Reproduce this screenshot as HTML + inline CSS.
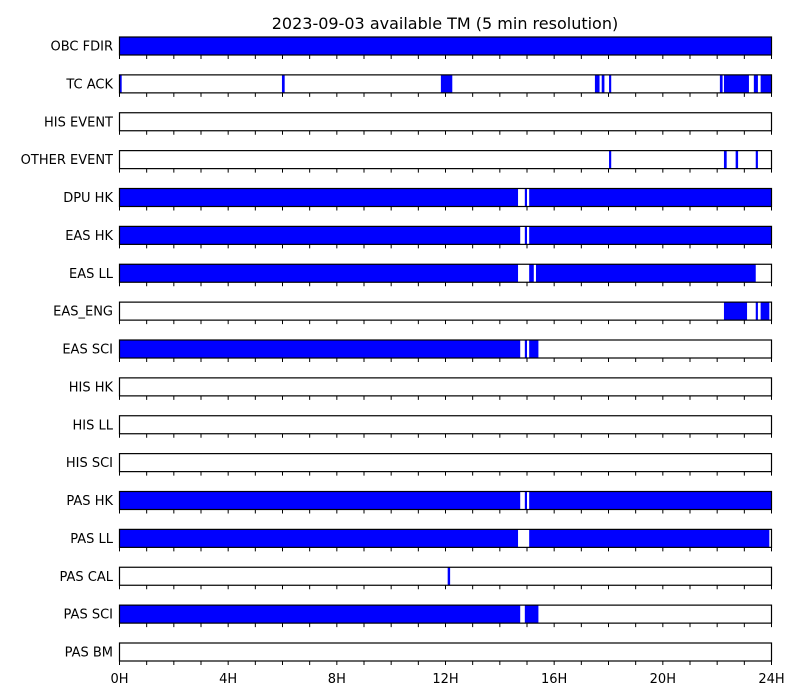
<!DOCTYPE html>
<html><head><meta charset="utf-8"><style>
body{margin:0;background:#fff;}
svg{display:block;font-family:"DejaVu Sans","Liberation Sans",sans-serif;}
</style></head><body>
<svg id="chart" width="800" height="700" viewBox="0 0 800 700" xmlns="http://www.w3.org/2000/svg">
<text x="445" y="29" text-anchor="middle" font-size="16">2023-09-03 available TM (5 min resolution)</text>
<g id="rows"></g>
</svg>
<script>
const categories = ["OBC FDIR","TC ACK","HIS EVENT","OTHER EVENT","DPU HK","EAS HK","EAS LL","EAS_ENG","EAS SCI","HIS HK","HIS LL","HIS SCI","PAS HK","PAS LL","PAS CAL","PAS SCI","PAS BM"];
const intervals = [
 [[0,24]],
 [[0,0.08],[5.98,6.08],[11.83,12.25],[17.5,17.67],[17.75,17.85],[18.02,18.1],[22.1,22.2],[22.25,23.17],[23.35,23.5],[23.6,24]],
 [],
 [[18.02,18.1],[22.25,22.35],[22.68,22.77],[23.42,23.5]],
 [[0,14.67],[14.92,15.0],[15.08,24]],
 [[0,14.75],[14.92,15.0],[15.08,24]],
 [[0,14.67],[15.08,15.25],[15.33,23.42]],
 [[22.25,23.1],[23.42,23.5],[23.6,23.92]],
 [[0,14.75],[14.92,15.0],[15.08,15.42]],
 [],[],[],
 [[0,14.75],[14.92,15.0],[15.08,24]],
 [[0,14.67],[15.08,23.92]],
 [[12.08,12.17]],
 [[0,14.75],[14.92,15.42]],
 []
];
const tickLabels = ["0H","4H","8H","12H","16H","20H","24H"];
const tickHours = [0,4,8,12,16,20,24];

const X0=119.5, X1=771.5, TOP=37, STEP=37.875, H=18;
const xs = h => X0 + (X1-X0)*h/24;
const ys = i => TOP + i*STEP;
const NS="http://www.w3.org/2000/svg";
const g=document.getElementById('rows');
function mk(t,a){const e=document.createElementNS(NS,t);for(const k in a)e.setAttribute(k,a[k]);return e;}
categories.forEach((c,i)=>{
  const y=ys(i);
  const row=mk('g',{});
  
  
  const lab=mk('text',{x:113,y:y+H/2+4.5,'text-anchor':'end','font-size':13});
  
  
  lab.textContent=c;row.appendChild(lab);
  intervals[i].forEach(iv=>{
    const r=mk('rect',{x:xs(iv[0]),y:y,width:Math.max(xs(iv[1])-xs(iv[0]),1.5),height:H,fill:'#0000ff'});
    
    
    row.appendChild(r);
  });
  const fr=mk('rect',{x:X0,y:y,width:X1-X0,height:H,fill:'none',stroke:'#000','stroke-width':1.2});
  
  
  row.appendChild(fr);
  for(let h=0;h<=24;h++){
    const t=mk('line',{x1:xs(h),x2:xs(h),y1:y+H,y2:y+H+4,stroke:'#000','stroke-width':1});
    
    
    row.appendChild(t);
  }
  g.appendChild(row);
});
const ly=ys(categories.length-1)+H+22;
tickHours.forEach((h,k)=>{
  const t=mk('text',{x:xs(h),y:ly,'text-anchor':'middle','font-size':13});
  
  
  t.textContent=tickLabels[k];g.appendChild(t);
});
</script>
</body></html>
